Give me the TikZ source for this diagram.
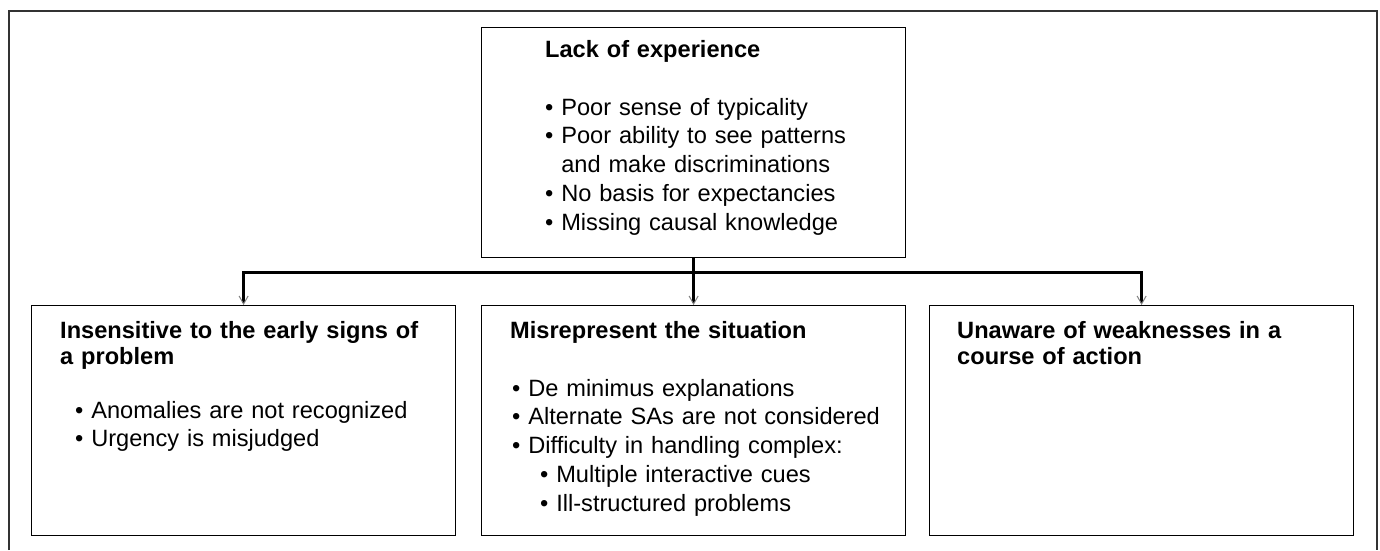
\documentclass[tikz,border=0pt]{standalone}
\usepackage{fontspec}
\setmainfont{Liberation Sans}
\usetikzlibrary{arrows.meta}

\tikzset{
	boxnode/.style = {draw, line width=1.2pt, minimum width=424pt, minimum height=230pt, anchor=north west, inner sep=0pt},
	headtext/.style = {anchor=base west, inner sep=0pt, text width=400pt, align=left, font=\fontsize{23.6}{26}\selectfont\bfseries},
	itemtext/.style = {anchor=base west, inner sep=0pt, text width=400pt, align=left, font=\fontsize{23.6}{28.8}\selectfont},
	link/.style = {line width=3pt},
	arrowlink/.style = {link, -{Straight Barb[length=8pt, width=9pt, line width=1pt, color=gray]}}
}

\begin{document}
\begin{tikzpicture}[x=1pt, y=-1pt]
	\useasboundingbox (0,0) rectangle (1380,550);
	% open frame round the figure
	\draw[line width=1.5pt, black!80] (9,550) -- (9,11) -- (1377,11) -- (1377,550);

	\node[boxnode] (exp) at (481,27) {};
	\node[boxnode] (signs) at (31,305) {};
	\node[boxnode] (sit) at (481,305) {};
	\node[boxnode] (weak) at (929,305) {};

	\node[headtext] (expHead) at ([shift={(64,30)}]exp.north west) {Lack of experience};
	\node[itemtext] (expList) at ([shift={(64,88)}]exp.north west)
		{\textbullet\ Poor sense of typicality\\
		 \textbullet\ Poor ability to see patterns\\
		 \phantom{\textbullet\ }and make discriminations\\
		 \textbullet\ No basis for expectancies\\
		 \textbullet\ Missing causal knowledge};

	\node[headtext] (signsHead) at ([shift={(29,33)}]signs.north west)
		{Insensitive to the early signs of\\ a problem};
	\node[itemtext] (signsList) at ([shift={(44,113)}]signs.north west)
		{\textbullet\ Anomalies are not recognized\\
		 \textbullet\ Urgency is misjudged};

	\node[headtext] (sitHead) at ([shift={(29,33)}]sit.north west) {Misrepresent the situation};
	\node[itemtext] (sitList) at ([shift={(31,91)}]sit.north west)
		{\textbullet\ De minimus explanations\\
		 \textbullet\ Alternate SAs are not considered\\
		 \textbullet\ Difficulty in handling complex:\\
		 \hspace*{28pt}\textbullet\ Multiple interactive cues\\
		 \hspace*{28pt}\textbullet\ Ill-structured problems};

	\node[headtext] (weakHead) at ([shift={(28,33)}]weak.north west)
		{Unaware of weaknesses in a\\ course of action};

	\coordinate (hub) at (exp.south |- 0,272);
	\draw[link] (exp.south) -- (hub);
	\foreach \b in {signs, sit, weak}
		\draw[arrowlink] (hub) -| (\b.north);
\end{tikzpicture}
\end{document}
